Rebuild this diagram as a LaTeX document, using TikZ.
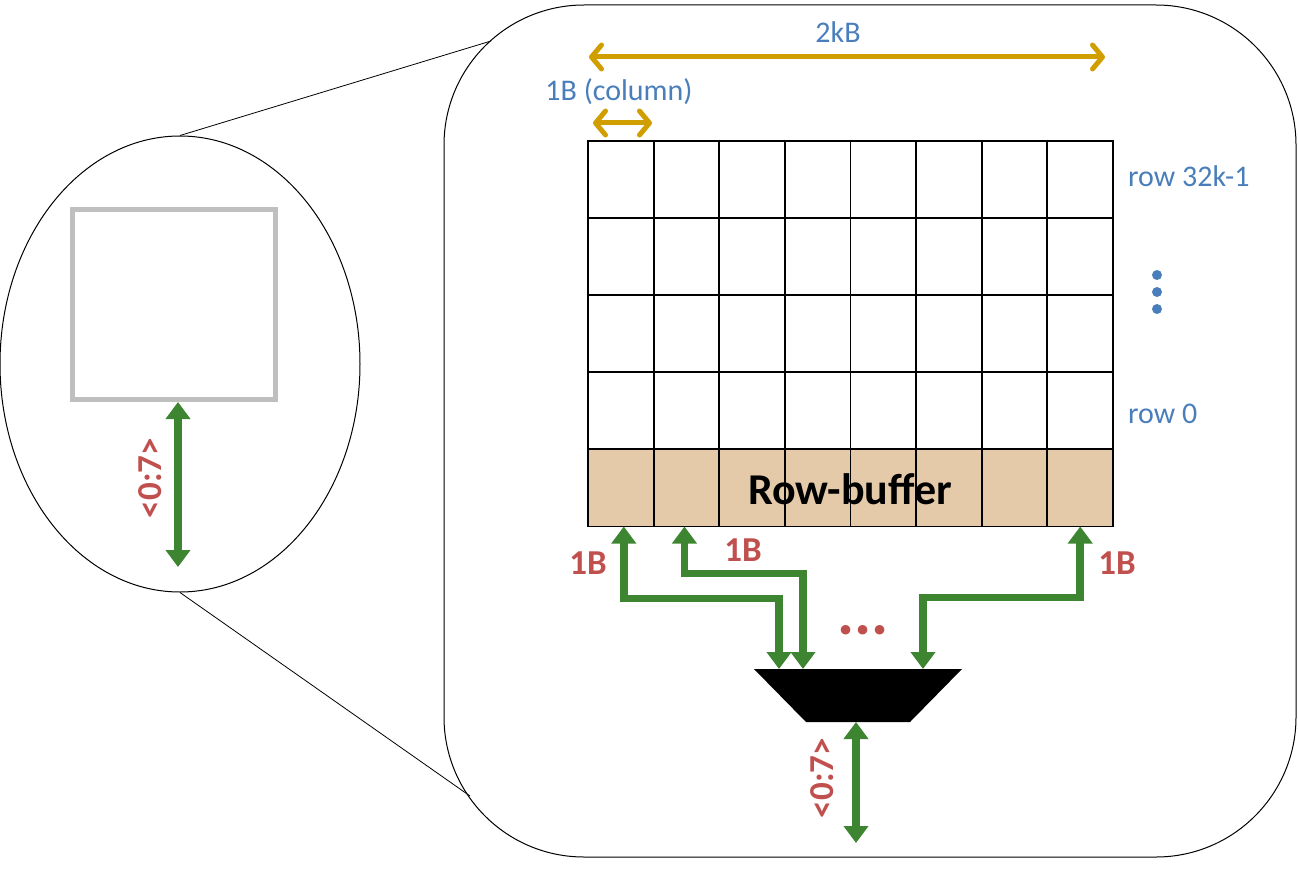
\documentclass[tikz,border=0pt]{standalone}
\usepackage{fontspec}
\setmainfont{Carlito}
\usetikzlibrary{arrows.meta,positioning,calc,shapes.geometric}
\definecolor{lblblue}{RGB}{74,126,187}
\definecolor{lblred}{RGB}{192,80,77}
\definecolor{busgreen}{RGB}{61,133,49}
\definecolor{dimgold}{RGB}{209,158,0}
\definecolor{buftan}{RGB}{228,202,169}
\definecolor{chipgray}{RGB}{191,191,191}
\tikzset{
	cell/.style={draw, line width=1.8pt, minimum width=65.625pt, minimum height=77pt, inner sep=0pt, outer sep=0pt},
	dbus/.style={busgreen, line width=7.5pt, {Triangle[length=17pt,width=24pt]}-{Triangle[length=17pt,width=24pt]}},
	dimarrow/.style={dimgold, line width=5pt, {Straight Barb[length=10pt,width=24pt,round]}-{Straight Barb[length=10pt,width=24pt,round]}},
	bluelbl/.style={text=lblblue, font=\fontsize{30}{34}\selectfont, inner sep=0pt},
	redlbl/.style={text=lblred, font=\bfseries\fontsize{35}{38}\selectfont, inner sep=0pt},
}
\begin{document}
\begin{tikzpicture}[x=1pt,y=-1pt]
	\useasboundingbox (0,0) rectangle (1298,880);
	% chip and its magnified bank
	\node (bank) [draw, line width=1pt, rounded corners=140pt, minimum width=852pt, minimum height=852pt, inner sep=0pt] at (870,431) {};
	\node (dimm) [draw, line width=1pt, ellipse, minimum width=360pt, minimum height=456pt, inner sep=0pt] at (180,364) {};
	\coordinate (zoomtop) at (491,41);
	\coordinate (zoombot) at (470,796);
	\draw [line width=.8pt] (dimm.north) -- (zoomtop) (dimm.south) -- (zoombot);
	\node (chip) [draw=chipgray, line width=5pt, minimum width=203pt, minimum height=190pt, inner sep=0pt] at (174,304.5) {};
	\coordinate (chipio) at (178,567);
	\draw [dbus] (chip.south -| chipio) -- (chipio);
	\node [redlbl, rotate=90] at (150,478) {<0:7>};
	% cell array
	\foreach \r in {0,...,3}
		\foreach \c in {1,...,8}
			\node [cell] (cell-\r-\c) at ({588+(\c-0.5)*65.625},{141+(\r+0.5)*77}) {};
	\foreach \c in {1,...,8}
		\node [cell, fill=buftan] (rb\c) at ({588+(\c-0.5)*65.625},488) {};
	\node [font=\bfseries\fontsize{44}{48}\selectfont] at (850,489) {Row-buffer};
	% sizes
	\coordinate (rowl) at (589,57);
	\coordinate (rowr) at (1105,57);
	\draw [dimarrow] (rowl) -- (rowr);
	\node [bluelbl] at (838,32) {2kB};
	\coordinate (coll) at (593,123);
	\coordinate (colr) at (652,123);
	\draw [dimarrow] (coll) -- (colr);
	\node [bluelbl] at (619,92) {1B (column)};
	\node [bluelbl, anchor=west] at (1128,176) {row 32k-1};
	\node [bluelbl, anchor=west] at (1128,414) {row 0};
	\foreach \y in {275,292,309}
		\fill [lblblue] (1157,\y) circle (5pt);
	% column mux
	\fill (754,669) -- (962,669) -- (910,722) -- (806,722) -- cycle;
	\coordinate (in1) at (779,669);
	\coordinate (in2) at (803,669);
	\coordinate (in3) at (923,669);
	\coordinate (muxout) at (856,722);
	\coordinate (dout) at (856,843);
	\draw [dbus] ([xshift=3pt]rb1.south) -- ++(0,72) -| (in1);
	\draw [dbus] ([xshift=-2pt]rb2.south) -- ++(0,47) -| (in2);
	\draw [dbus] (rb8.south) -- ++(0,71) -| (in3);
	\draw [dbus] (muxout) -- (dout);
	\node [redlbl] at (588,563) {1B};
	\node [redlbl] at (743,550) {1B};
	\node [redlbl] at (1117,563) {1B};
	\node [redlbl, font=\bfseries\fontsize{64}{64}\selectfont] at (863,630) {...};
	\node [redlbl, rotate=90] at (822,778) {<0:7>};
\end{tikzpicture}
\end{document}
